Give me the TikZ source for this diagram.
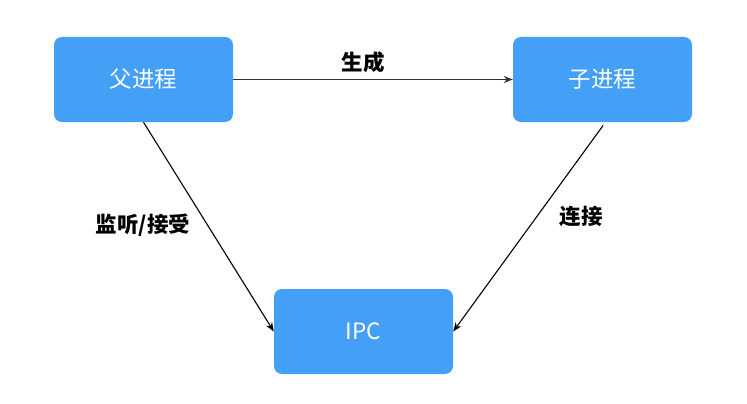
\documentclass[tikz,border=0pt]{standalone}
\usepackage{fontspec}
\setmainfont{Noto Sans CJK SC}
\usetikzlibrary{positioning,arrows.meta}
\definecolor{procblue}{RGB}{67,160,246}
\tikzset{
    procbox/.style={fill=procblue, rounded corners=8pt, minimum width=179pt, minimum height=85pt, text=white, font=\fontsize{22.5}{26}\selectfont},
    linklabel/.style={font=\fontsize{21.5}{25}\selectfont\bfseries},
    linkarrow/.style={-{Stealth[length=9pt,width=7pt]}, line width=1.1pt},
}

\begin{document}
\begin{tikzpicture}[x=1pt,y=-1pt]
\useasboundingbox (0,0) rectangle (747,404);
\node[procbox] (parent) at (143.5,79.5) {父进程};
\node[procbox] (child) at (602.5,79.5) {子进程};
\node[procbox] (ipc) at (363.5,331.5) {IPC};
\draw[linkarrow, black!80, line width=1.5pt] (parent.east) -- (child.west);
\draw[linkarrow] (parent.south) -- (ipc.west);
\draw[linkarrow, shorten <=4pt] ([xshift=3pt]child.south) -- (ipc.east);
\node[linklabel] (spawn) at (363,62) {生成};
\node[linklabel] (listen) at (143,225) {监听/接受};
\node[linklabel] (connect) at (581,216) {连接};
\end{tikzpicture}
\end{document}
